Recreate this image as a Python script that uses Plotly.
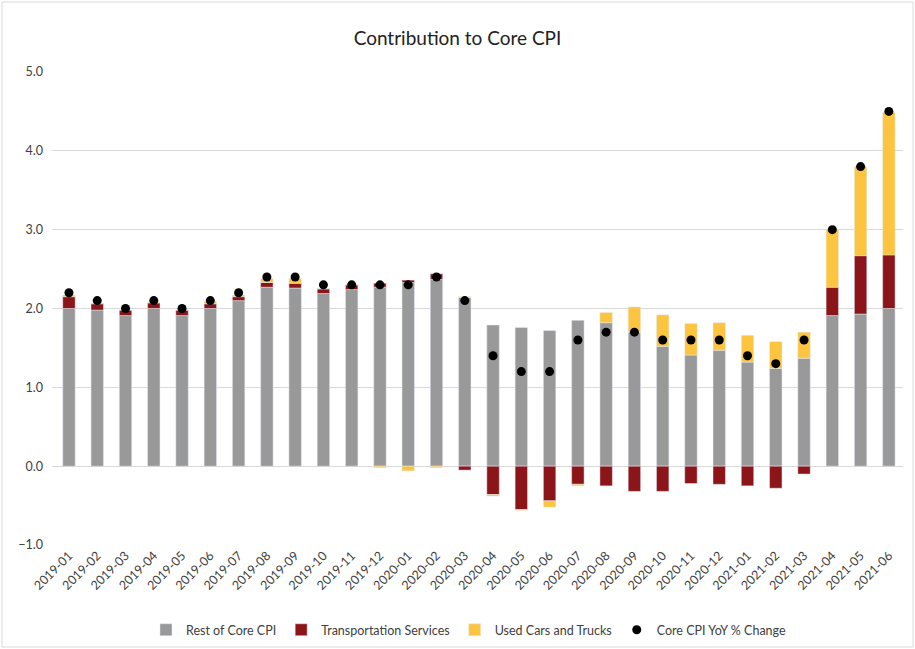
import plotly.graph_objects as go

months = ["2019-01","2019-02","2019-03","2019-04","2019-05","2019-06","2019-07","2019-08","2019-09","2019-10",
          "2019-11","2019-12","2020-01","2020-02","2020-03","2020-04","2020-05","2020-06","2020-07","2020-08",
          "2020-09","2020-10","2020-11","2020-12","2021-01","2021-02","2021-03","2021-04","2021-05","2021-06"]

rest_core = [2.00, 1.98, 1.91, 2.00, 1.91, 2.00, 2.10, 2.27, 2.26, 2.19,
             2.24, 2.27, 2.33, 2.37, 2.14, 1.79, 1.76, 1.72, 1.85, 1.82,
             1.70, 1.52, 1.41, 1.47, 1.32, 1.24, 1.37, 1.91, 1.93, 2.00]

transport = [0.15, 0.08, 0.07, 0.07, 0.07, 0.06, 0.05, 0.06, 0.06, 0.06,
             0.06, 0.05, 0.03, 0.07, -0.05, -0.36, -0.55, -0.44, -0.23, -0.25,
             -0.32, -0.32, -0.22, -0.23, -0.25, -0.28, -0.10, 0.36, 0.74, 0.68]

used_cars = [0.02, 0.01, 0.0, 0.01, 0.0, 0.03, 0.02, 0.05, 0.06, 0.0,
             0.0, -0.02, -0.06, -0.02, 0.01, -0.02, -0.01, -0.08, -0.02, 0.13,
             0.32, 0.40, 0.40, 0.35, 0.34, 0.34, 0.33, 0.73, 1.13, 1.81]

core_yoy = [2.2, 2.1, 2.0, 2.1, 2.0, 2.1, 2.2, 2.4, 2.4, 2.3,
            2.3, 2.3, 2.3, 2.4, 2.1, 1.4, 1.2, 1.2, 1.6, 1.7,
            1.7, 1.6, 1.6, 1.6, 1.4, 1.3, 1.6, 3.0, 3.8, 4.5]

y_ticks = [-1, 0, 1, 2, 3, 4, 5]

FONT = "Lato, 'Open Sans', sans-serif"

fig = go.Figure()
fig.add_trace(go.Bar(x=months, y=rest_core, name="Rest of Core CPI", marker_color="#999999"))
fig.add_trace(go.Bar(x=months, y=transport, name="Transportation Services", marker_color="#8B1518"))
fig.add_trace(go.Bar(x=months, y=used_cars, name="Used Cars and Trucks", marker_color="#FDC43F"))
fig.add_trace(go.Scatter(x=months, y=core_yoy, name="Core CPI YoY % Change", mode="markers",
                         marker=dict(color="black", size=9)))

fig.update_layout(
    width=915, height=649,
    barmode="relative", bargap=0.56,
    plot_bgcolor="white", paper_bgcolor="white",
    margin=dict(l=52, r=12, t=72, b=104, autoexpand=False),
    font=dict(family=FONT, color="#595959", size=12),
    title=dict(text="Contribution to Core CPI", x=0.5, xanchor="center", y=1 - 38/649, yanchor="middle",
               font=dict(size=19, color="#222222", family=FONT)),
    legend=dict(orientation="h", x=0.49, xanchor="center", y=-0.18, yanchor="middle",
                font=dict(size=12.5, color="#404040"), traceorder="normal", itemwidth=30),
    xaxis=dict(type="category", range=[-0.6, 29.5], automargin=False, tickangle=-45, showgrid=False,
               showline=False, ticks="", tickfont=dict(size=12.5, color="#404040")),
    yaxis=dict(range=[-1, 5], tickvals=y_ticks, tickformat=".1f", showgrid=True, gridcolor="#d9d9d9",
               zeroline=True, zerolinecolor="#d9d9d9", zerolinewidth=1, ticks="", showline=False,
               automargin=False, ticklabelstandoff=8, tickfont=dict(size=12.5, color="#404040")),
    shapes=[dict(type="rect", xref="paper", yref="paper",
                 x0=-50/851, x1=1 + 10/851, y0=-102/473, y1=1 + 70/473,
                 line=dict(color="#d9d9d9", width=1))],
)

fig.write_html("out.html")
